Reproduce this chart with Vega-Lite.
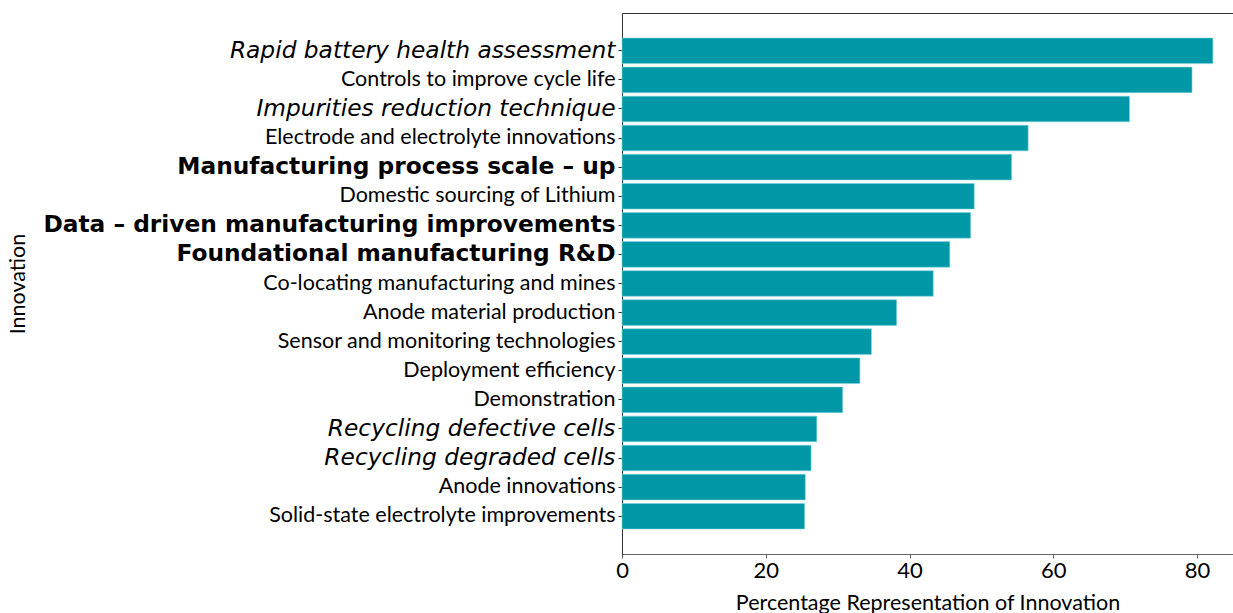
{
  "$schema": "https://vega.github.io/schema/vega-lite/v6.json",
  "width": 611,
  "height": 541,
  "autosize": {"type": "none"},
  "padding": {"left": 622, "top": 13, "right": 0, "bottom": 59},
  "background": "white",
  "data": {
    "values": [
      {"innovation": "Rapid battery health assessment", "pct": 82.2},
      {"innovation": "Controls to improve cycle life", "pct": 79.3},
      {"innovation": "Impurities reduction technique", "pct": 70.6},
      {"innovation": "Electrode and electrolyte innovations", "pct": 56.5},
      {"innovation": "Manufacturing process scale – up", "pct": 54.2},
      {"innovation": "Domestic sourcing of Lithium", "pct": 49.0},
      {"innovation": "Data – driven manufacturing improvements", "pct": 48.5},
      {"innovation": "Foundational manufacturing R&D", "pct": 45.6},
      {"innovation": "Co-locating manufacturing and mines", "pct": 43.3},
      {"innovation": "Anode material production", "pct": 38.2},
      {"innovation": "Sensor and monitoring technologies", "pct": 34.7},
      {"innovation": "Deployment efficiency", "pct": 33.1},
      {"innovation": "Demonstration", "pct": 30.7},
      {"innovation": "Recycling defective cells", "pct": 27.1},
      {"innovation": "Recycling degraded cells", "pct": 26.3},
      {"innovation": "Anode innovations", "pct": 25.5},
      {"innovation": "Solid-state electrolyte improvements", "pct": 25.4}
    ]
  },
  "mark": {"type": "bar", "color": "#0098a7", "stroke": "#7fd3dc", "strokeWidth": 0.6},
  "encoding": {
    "y": {
      "field": "innovation",
      "type": "nominal",
      "sort": "-x",
      "scale": {"paddingInner": 0.12, "paddingOuter": 0.86},
      "axis": {
        "title": "Innovation",
        "titleFont": "Lato",
        "titleFontSize": 21.5,
        "titleFontWeight": "normal",
        "titleColor": "black",
        "titleX": -604,
        "titleBaseline": "middle",
        "labelColor": "black",
        "labelLimit": 700,
        "labelPadding": 3,
        "tickSize": 4,
        "tickColor": "#333",
        "domainColor": "#333",
        "labelFont": {"condition": {"test": "datum.value == 'Rapid battery health assessment' || datum.value == 'Impurities reduction technique' || datum.value == 'Recycling defective cells' || datum.value == 'Recycling degraded cells' || datum.value == 'Manufacturing process scale – up' || datum.value == 'Data – driven manufacturing improvements' || datum.value == 'Foundational manufacturing R&D'", "value": "DejaVu Sans"}, "value": "Lato"},
        "labelFontSize": {"condition": {"test": "datum.value == 'Rapid battery health assessment' || datum.value == 'Impurities reduction technique' || datum.value == 'Recycling defective cells' || datum.value == 'Recycling degraded cells' || datum.value == 'Manufacturing process scale – up' || datum.value == 'Data – driven manufacturing improvements' || datum.value == 'Foundational manufacturing R&D'", "value": 23.3}, "value": 21.5},
        "labelFontStyle": {"condition": {"test": "datum.value == 'Rapid battery health assessment' || datum.value == 'Impurities reduction technique' || datum.value == 'Recycling defective cells' || datum.value == 'Recycling degraded cells'", "value": "italic"}, "value": "normal"},
        "labelFontWeight": {"condition": {"test": "datum.value == 'Manufacturing process scale – up' || datum.value == 'Data – driven manufacturing improvements' || datum.value == 'Foundational manufacturing R&D'", "value": "bold"}, "value": "normal"}
      }
    },
    "x": {
      "field": "pct",
      "type": "quantitative",
      "scale": {"domain": [0, 85], "nice": false},
      "axis": {
        "title": "Percentage Representation of Innovation",
        "titleFont": "Lato",
        "titleFontSize": 21.5,
        "titleFontWeight": "normal",
        "titleColor": "black",
        "titleY": 49,
        "titleBaseline": "middle",
        "values": [0, 20, 40, 60, 80],
        "grid": false,
        "labelFlush": false,
        "labelFont": "Lato",
        "labelFontSize": 22,
        "labelColor": "black",
        "labelPadding": 2,
        "tickSize": 4,
        "tickColor": "#666",
        "domainColor": "#666"
      }
    }
  },
  "config": {
    "view": {"stroke": "#333", "strokeWidth": 1}
  }
}
